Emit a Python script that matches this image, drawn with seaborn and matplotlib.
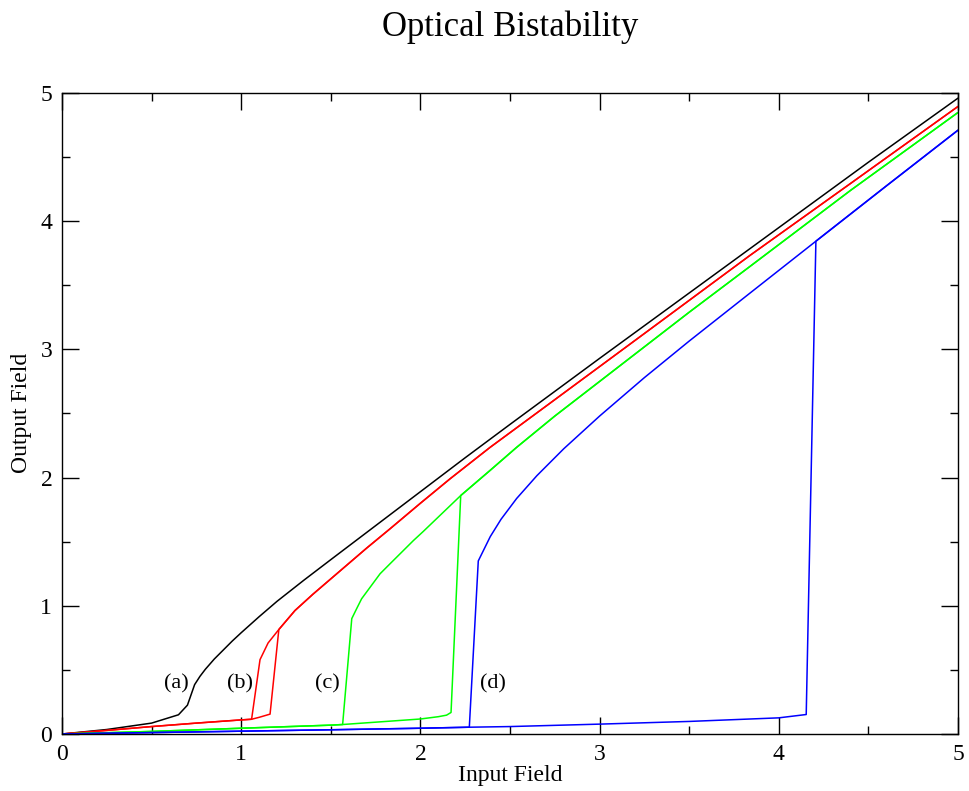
import pandas as pd
import seaborn as sns
import matplotlib.pyplot as plt
from matplotlib.ticker import MultipleLocator

# (a) no hysteresis: single branch
a_x = [0, 0.25, 0.5, 0.65, 0.70, 0.74, 0.77, 0.80, 0.85, 0.90, 0.95, 1.0, 1.1, 1.2, 1.35, 1.5, 1.75, 2.0, 2.25, 2.5, 3.0, 3.5, 4.0, 4.5, 5.0]
a_y = [0, 0.035, 0.085, 0.15, 0.225, 0.385, 0.45, 0.505, 0.585, 0.655, 0.725, 0.79, 0.915, 1.035, 1.20, 1.36, 1.625, 1.89, 2.155, 2.415, 2.93, 3.44, 3.95, 4.46, 4.96]

# (b) lower / upper branches
b_lo_x = [0, 0.25, 0.5, 0.75, 1.0, 1.058, 1.10, 1.161]
b_lo_y = [0, 0.028, 0.058, 0.085, 0.11, 0.115, 0.13, 0.155]
b_hi_x = [1.105, 1.15, 1.21, 1.30, 1.40, 1.55, 1.70, 1.83, 2.0, 2.165, 2.388, 2.723, 3.28, 3.839, 4.4, 5.0]
b_hi_y = [0.58, 0.71, 0.815, 0.963, 1.09, 1.27, 1.45, 1.60, 1.80, 1.99, 2.235, 2.58, 3.155, 3.733, 4.294, 4.895]

# (c)
c_lo_x = [0, 0.5, 1.0, 1.5, 1.566, 2.0, 2.10, 2.146, 2.171]
c_lo_y = [0, 0.02, 0.045, 0.069, 0.074, 0.117, 0.135, 0.147, 0.168]
c_hi_x = [1.617, 1.644, 1.672, 1.775, 1.83, 1.961, 2.016, 2.225, 2.388, 2.537, 2.75, 3.0, 3.5, 3.839, 4.4, 5.0]
c_hi_y = [0.90, 0.977, 1.055, 1.25, 1.327, 1.509, 1.58, 1.86, 2.055, 2.236, 2.48, 2.75, 3.29, 3.647, 4.24, 4.848]

# (d)
d_lo_x = [0, 0.5, 1.0, 1.5, 2.0, 2.273, 2.5, 3.0, 3.5, 4.0, 4.153]
d_lo_y = [0, 0.011, 0.022, 0.033, 0.045, 0.053, 0.058, 0.077, 0.098, 0.126, 0.152]
d_hi_x = [2.323, 2.39, 2.45, 2.537, 2.65, 2.8, 3.0, 3.25, 3.5, 3.839, 4.207, 4.6, 5.0]
d_hi_y = [1.35, 1.54, 1.675, 1.837, 2.015, 2.225, 2.48, 2.78, 3.065, 3.439, 3.844, 4.275, 4.71]

# where the sweep jumps up (on upper branch) and drops down (on lower branch)
jump_top_x = {"b": 1.21, "c": 2.225, "d": 4.207}
drop_bottom_x = {"b": 1.058, "c": 1.566, "d": 2.273}

labels = ["(a)", "(b)", "(c)", "(d)"]
label_x = [0.64, 0.995, 1.48, 2.405]
label_y = [0.39, 0.39, 0.39, 0.39]
colors = {"a": "black", "b": "#ff0000", "c": "#00ff00", "d": "#0000ff"}

rows = []
for i, (x, y) in enumerate(zip(a_x, a_y)):
    rows.append(("a", "a_up", i, x, y))

branches = {"b": (b_lo_x, b_lo_y, b_hi_x, b_hi_y),
            "c": (c_lo_x, c_lo_y, c_hi_x, c_hi_y),
            "d": (d_lo_x, d_lo_y, d_hi_x, d_hi_y)}
for name, (lx, ly, hx, hy) in branches.items():
    # increasing input: lower branch, jump, upper branch
    up = list(zip(lx, ly)) + [(x, y) for x, y in zip(hx, hy) if x >= jump_top_x[name]]
    # decreasing input: upper branch back, drop, lower branch back to 0
    down = list(zip(hx, hy))[::-1] + [(x, y) for x, y in zip(lx, ly) if x <= drop_bottom_x[name]][::-1]
    for i, (x, y) in enumerate(up):
        rows.append((name, name + "_up", i, x, y))
    for i, (x, y) in enumerate(down):
        rows.append((name, name + "_down", i, x, y))

df = pd.DataFrame(rows, columns=["curve", "path", "order", "x", "y"])

sns.set_style("ticks")
plt.rcParams["font.family"] = ["Liberation Serif", "DejaVu Serif"]
plt.rcParams["text.color"] = "black"

fig = plt.figure(figsize=(9.69, 7.91), dpi=100)
ax = fig.add_axes([62 / 969, 57 / 791, 896 / 969, 641 / 791])

sns.lineplot(data=df, x="x", y="y", hue="curve", units="path", estimator=None,
             sort=False, palette=colors, legend=False, linewidth=1.1, ax=ax)

for t, lx, ly in zip(labels, label_x, label_y):
    ax.text(lx, ly, t, fontsize=16, ha="center", va="center", color="black")

ax.set_xlim(0, 5)
ax.set_ylim(0, 5)
ax.xaxis.set_major_locator(MultipleLocator(1))
ax.xaxis.set_minor_locator(MultipleLocator(0.5))
ax.yaxis.set_major_locator(MultipleLocator(1))
ax.yaxis.set_minor_locator(MultipleLocator(0.5))
ax.tick_params(which="both", direction="in", top=True, right=True, width=1.0, colors="black",
               labelsize=17)
ax.tick_params(which="major", length=12, pad=7)
ax.tick_params(which="minor", length=6)
for s in ax.spines.values():
    s.set_visible(True)
    s.set_linewidth(1.0)
    s.set_color("black")

ax.set_xlabel("")
ax.set_ylabel("")
fig.text(510 / 969, 1 - 776 / 791, "Input Field", ha="center", va="center", fontsize=17, color="black")
fig.text(22 / 969, 1 - 413 / 791, "Output Field", ha="center", va="center", fontsize=17,
         rotation=90, color="black")
fig.text(510 / 969, 1 - 27 / 791, "Optical Bistability", ha="center", va="center", fontsize=25,
         color="black")

fig.savefig("out.png", dpi=100)
